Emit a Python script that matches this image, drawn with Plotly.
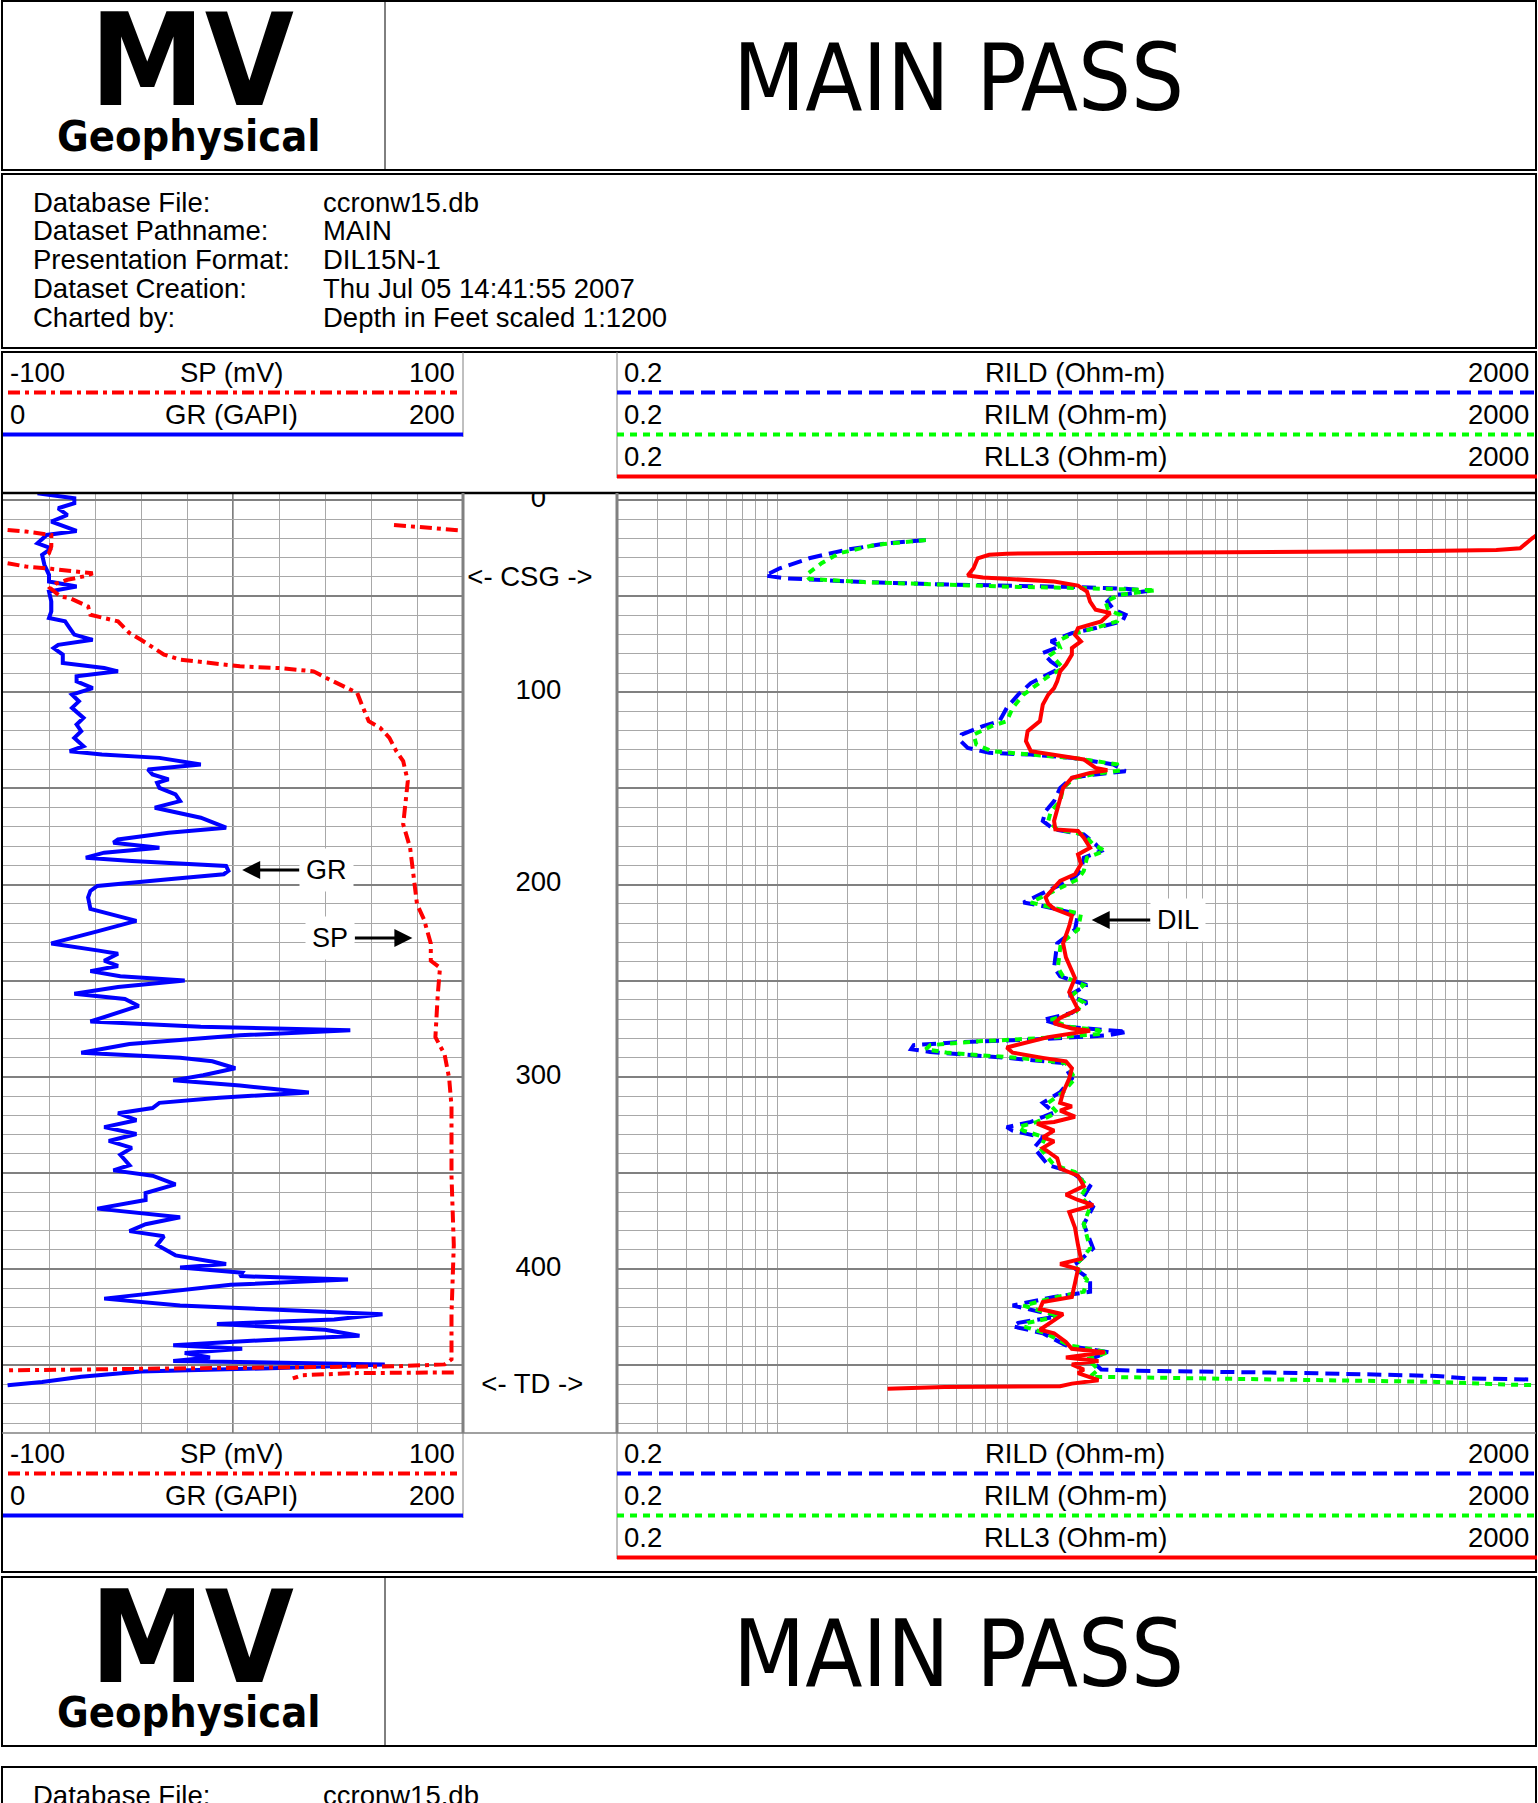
import plotly.graph_objects as go

W, H = 1538, 1803
SANS = "Liberation Sans, Arial, sans-serif"
NARROW = "DejaVu Sans Condensed, Liberation Sans Narrow, sans-serif"

# ---------------- data (depth in feet) ----------------
gr_depth = [
    -3.5, -0.9, 1.7, 4.3, 7.8, 11.2, 16.1, 18.2, 22.5, 25.1,
    28.5, 33.7, 38.9, 42.4, 45.0, 47.6, 52.8, 58.0, 61.4, 63.1,
    66.6, 70.0, 72.7, 75.3, 77.0, 80.4, 84.8, 87.4, 89.1, 91.7,
    94.3, 97.8, 101.2, 104.7, 108.1, 113.3, 116.8, 120.2, 123.7, 128.0,
    130.6, 132.4, 134.1, 137.5, 140.1, 142.7, 145.3, 147.1, 149.7, 153.1,
    156.6, 160.0, 165.2, 170.4, 173.0, 176.5, 178.2, 180.8, 183.4, 186.0,
    187.7, 190.3, 192.9, 194.6, 197.2, 200.7, 203.3, 206.7, 212.6, 218.9,
    224.3, 230.6, 234.2, 236.0, 239.6, 242.3, 245.0, 247.7, 249.9, 253.2,
    256.8, 259.5, 263.1, 266.7, 271.2, 273.9, 275.7, 278.4, 282.9, 287.4,
    290.1, 291.9, 295.5, 299.1, 301.8, 304.5, 308.1, 310.8, 313.5, 316.2,
    318.9, 322.5, 326.1, 329.7, 333.3, 336.9, 340.5, 345.9, 348.6, 351.4,
    355.9, 360.4, 364.0, 368.5, 373.0, 376.6, 380.2, 382.9, 387.4, 392.8,
    397.3, 399.1, 401.8, 403.6, 405.4, 408.1, 411.7, 415.3, 418.9, 421.6,
    423.4, 426.1, 428.5, 431.5, 434.6, 436.9, 439.6, 441.4, 443.6, 445.9,
    447.7, 449.5, 451.4, 453.2, 455.9, 458.6, 460.4,
]
gr_api = [
    15, 31, 31, 24, 28, 21, 32, 19, 15, 21,
    17, 18, 20, 20, 32, 20, 21, 21, 20, 27,
    29, 31, 39, 24, 22, 26, 26, 44, 50, 32,
    32, 39, 30, 33, 30, 35, 32, 34, 31, 35,
    29, 43, 68, 86, 63, 65, 72, 67, 68, 75,
    77, 66, 86, 97, 72, 50, 48, 68, 44, 36,
    56, 97, 98, 96, 72, 41, 38, 37, 38, 58,
    41, 21, 41, 50, 44, 50, 38, 51, 79, 50,
    31, 53, 59, 50, 38, 86, 151, 103, 55, 34,
    77, 91, 101, 87, 74, 103, 133, 94, 68, 65,
    50, 58, 44, 58, 46, 56, 51, 55, 48, 65,
    75, 62, 62, 41, 77, 62, 55, 70, 67, 75,
    97, 77, 104, 103, 150, 99, 72, 44, 77, 132,
    165, 144, 93, 140, 155, 113, 74, 104, 79, 90,
    74, 166, 120, 60, 34, 17, 2,
]

# SP wraps around the track, so it is drawn in pieces (None = break)
sp_depth = [
    13.0, 14.4, 15.9, None,
    15.6, 16.4, 18.2, 19.9, 24.2, 27.7, 28.5, None,
    32.9, 34.6, 35.8, 38.1, 39.5, 41.5, 43.5, 45.8, 50.2, 51.0,
    55.4, 59.7, 63.1, 69.2, 72.7, 80.4, 83.0, 85.1, 86.5, 87.4,
    89.1, 93.4, 100.3, 106.4, 115.0, 118.5, 123.7, 130.6, 135.8, 146.2,
    158.3, 168.7, 180.8, 198.1, 210.2, 218.0, 230.6, 239.6, 243.2, 257.7,
    279.3, 288.3, 300.9, 315.3, 351.4, 387.4, 423.4, 446.8, 449.5, 450.5,
    450.8, 451.3, 451.7, 452.6, None,
    453.7, 454.0, 455.1, 456.8,
]
sp_mv = [
    70, 85, 100, None,
    -98, -90, -79, -79, -79, -80, -81, None,
    -98, -90, -79, -61, -64, -72, -77, -79.5, -75, -71,
    -63, -62, -50, -45, -40, -30, -23, -8, 3, 20,
    35, 42, 54, 56, 59, 64, 68, 71, 74, 76,
    75, 74, 77, 79, 80, 83, 86, 86, 90, 89,
    88, 92, 94, 95, 95, 96, 95, 95, 92, 71,
    37, 3, -32, -98, None,
    96, 54, 30, 26,
]

rll3_depth = [
    16.4, 19.9, 25.1, 26.0, 26.5, 27.2, 27.9, 28.5, 30.3, 35.5,
    39.3, 40.3, 41.5, 42.4, 44.5, 47.6, 52.8, 57.1, 58.8, 63.1,
    66.6, 70.1, 73.5, 77.0, 80.4, 85.6, 89.1, 94.3, 97.8, 101.2,
    106.4, 115.0, 120.2, 125.4, 130.6, 132.4, 134.9, 139.3, 140.5, 141.9,
    144.5, 149.7, 154.8, 160.0, 166.9, 171.3, 172.1, 175.6, 180.8, 184.3,
    189.4, 194.6, 198.1, 201.6, 206.7, 210.0, 212.6, 216.2, 221.6, 230.6,
    237.8, 248.6, 255.9, 264.9, 269.4, 272.1, 274.8, 276.0, 279.3, 284.7,
    287.4, 290.1, 291.9, 295.5, 300.9, 308.1, 313.5, 315.3, 317.5, 320.7,
    323.4, 324.3, 327.9, 331.5, 333.5, 336.9, 342.3, 347.7, 351.4, 356.8,
    361.3, 364.0, 366.7, 370.3, 378.4, 387.4, 394.6, 397.3, 400.0, 407.2,
    414.4, 417.1, 420.7, 423.4, 427.9, 431.5, 433.3, 437.8, 441.4, 443.2,
    445.9, 447.7, 449.5, 452.2, 454.1, 457.7, 459.5, 460.9, 461.3, 462.2,
]
rll3_ohm = [
    2100, 1906, 1690, 1331, 650, 80, 9.9, 8.3, 7.4, 7.1,
    6.7, 7.8, 11.1, 15.9, 20.2, 22.1, 22.8, 24.1, 27.9, 25.5,
    20.2, 19.6, 20.8, 19.0, 19.0, 17.9, 16.9, 16.4, 15.9, 15.0,
    14.2, 13.8, 12.2, 12.0, 12.6, 15.9, 21.4, 24.1, 27.1, 22.8,
    19.0, 17.4, 16.9, 16.4, 15.9, 16.1, 20.2, 21.4, 22.8, 20.2,
    20.8, 19.6, 16.9, 15.9, 14.6, 15.0, 15.9, 19.0, 18.5, 17.4,
    17.9, 19.6, 18.5, 20.2, 16.9, 15.9, 19.0, 22.8, 15.0, 9.9,
    10.5, 14.2, 17.9, 19.0, 18.5, 17.4, 16.9, 19.0, 16.9, 19.6,
    15.9, 13.4, 15.9, 14.2, 15.9, 14.2, 16.4, 16.9, 20.2, 21.4,
    17.9, 20.2, 23.5, 18.5, 19.6, 20.2, 20.8, 16.9, 20.2, 19.6,
    19.0, 14.2, 13.8, 17.4, 15.4, 13.8, 15.9, 17.9, 19.0, 26.4,
    17.9, 24.8, 19.0, 21.4, 20.2, 24.8, 19.0, 16.9, 5.3, 3.0,
]

rild_depth = [
    20.8, 22.5, 26.0, 30.3, 35.5, 39.3, 40.7, 42.4, 43.8, 44.6,
    45.3, 46.2, 47.2, 49.0, 49.3, 52.8, 57.1, 59.7, 63.1, 66.6,
    69.2, 73.5, 76.0, 79.6, 84.0, 87.4, 91.7, 95.2, 101.2, 108.1,
    115.0, 117.6, 122.0, 125.0, 128.9, 131.5, 132.4, 134.1, 137.5, 141.0,
    142.7, 144.5, 149.7, 156.6, 161.8, 166.9, 171.3, 173.9, 179.0, 182.5,
    186.0, 192.9, 197.2, 201.6, 207.6, 209.3, 210.8, 215.3, 223.4, 230.6,
    243.2, 247.7, 252.3, 257.7, 261.3, 266.7, 270.3, 273.9, 275.7, 276.5,
    278.4, 280.2, 282.0, 283.5, 285.6, 287.0, 290.1, 292.8, 300.9, 308.0,
    313.5, 318.5, 323.4, 326.1, 328.0, 331.5, 336.9, 345.9, 349.5, 356.8,
    362.2, 367.6, 376.6, 389.2, 396.4, 398.5, 405.4, 411.7, 414.4, 418.9,
    422.5, 424.3, 427.9, 429.7, 433.3, 439.6, 443.2, 446.8, 449.5, 452.2,
    452.8, 453.2, 454.1, 455.5, 456.8, 457.4, 457.6,
]
rild_ohm = [
    4.4, 3.0, 1.96, 1.37, 1.02, 0.88, 1.08, 2.1, 4.8, 11.1,
    20.2, 32.5, 41, 32.5, 29, 27.1, 29, 32.5, 31.5, 24.1,
    19.0, 15.4, 16.9, 14.2, 15.4, 16.9, 14.2, 12.6, 11.1, 9.9,
    9.2, 7.8, 6.3, 6.2, 6.7, 8.3, 12.6, 19.0, 28.8, 32.5,
    24.1, 19.0, 16.9, 15.9, 14.6, 14.2, 15.9, 21.4, 24.1, 25.5,
    21.4, 20.8, 19.0, 15.9, 12.6, 11.7, 13.8, 20.2, 19.6, 16.4,
    15.9, 16.9, 22.1, 18.5, 22.1, 19.0, 14.2, 17.9, 27.1, 33,
    27.1, 15.0, 6.0, 3.9, 3.8, 4.6, 9.9, 17.4, 19.0, 16.9,
    14.2, 15.9, 12.6, 9.9, 10.5, 14.2, 13.0, 15.0, 19.0, 22.8,
    21.4, 23.5, 21.4, 23.5, 20.2, 19.0, 22.8, 22.8, 15.9, 10.5,
    14.2, 16.9, 11.1, 10.5, 14.2, 17.9, 27.4, 22.8, 24.1, 25.5,
    36.8, 67, 221, 733, 987, 2000, 2500,
]

rilm_depth = [
    20.8, 23.4, 27.7, 32.9, 38.9, 41.0, 42.7, 44.1, 45.2, 45.8,
    46.5, 46.9, 49.3, 52.8, 57.1, 59.7, 63.1, 66.6, 69.7, 73.5,
    77.0, 80.4, 84.0, 87.4, 91.7, 96.0, 101.2, 108.1, 115.0, 117.6,
    122.0, 127.2, 130.6, 132.4, 134.4, 137.5, 140.7, 142.4, 144.5, 149.7,
    156.6, 161.8, 166.9, 171.3, 173.9, 179.0, 182.5, 186.0, 192.9, 197.2,
    201.6, 207.6, 209.3, 210.8, 215.3, 223.4, 230.6, 243.2, 247.7, 252.3,
    257.7, 261.3, 266.7, 270.3, 273.9, 275.7, 277.5, 279.3, 281.5, 283.5,
    285.6, 287.5, 290.1, 292.8, 300.9, 308.0, 313.5, 318.5, 323.4, 326.1,
    328.0, 331.5, 336.9, 345.9, 349.5, 356.8, 362.2, 367.6, 376.6, 389.2,
    396.4, 398.5, 405.4, 411.7, 414.4, 418.9, 422.5, 424.3, 427.9, 429.7,
    433.3, 439.6, 443.2, 446.8, 449.5, 452.2, 455.9, 456.8, 457.7, 458.6,
    460.0, 460.4, 460.6,
]
rilm_ohm = [
    4.4, 2.65, 1.85, 1.55, 1.33, 1.37, 2.35, 5.1, 11.1, 20.2,
    36.8, 44, 30.8, 26.6, 27.3, 30.8, 29.9, 24.0, 19.0, 16.4,
    16.9, 15.4, 16.4, 17.4, 15.0, 13.4, 11.7, 10.5, 9.9, 8.5,
    7.1, 7.3, 8.5, 12.6, 20.2, 29.9, 30.8, 24.0, 19.6, 17.4,
    16.9, 15.4, 15.0, 16.4, 21.4, 23.5, 26.4, 22.1, 21.4, 20.2,
    16.9, 13.4, 12.6, 14.2, 20.8, 20.2, 17.0, 16.5, 17.4, 21.4,
    19.0, 21.4, 19.6, 15.4, 18.5, 24.8, 26.0, 17.0, 7.5, 4.6,
    4.4, 5.5, 11.1, 17.9, 19.6, 17.4, 15.0, 16.4, 13.4, 11.1,
    11.7, 14.6, 13.8, 15.9, 19.6, 22.1, 20.8, 22.8, 21.4, 22.8,
    20.2, 19.6, 22.1, 21.4, 16.4, 11.7, 14.6, 16.9, 12.2, 11.7,
    14.6, 18.5, 27.4, 22.1, 23.5, 24.8, 22.8, 67, 221, 733,
    1500, 2000, 2500,
]

depth_ticks = [0, 100, 200, 300, 400]
marker_depth = [41, 461]
marker_text = ["<- CSG ->", "<- TD ->"]

info_labels = ["Database File:", "Dataset Pathname:", "Presentation Format:",
               "Dataset Creation:", "Charted by:"]
info_values = ["ccronw15.db", "MAIN", "DIL15N-1",
               "Thu Jul 05 14:41:55 2007", "Depth in Feet scaled 1:1200"]

left_scales = [("-100", "SP (mV)", "100"), ("0", "GR (GAPI)", "200")]
right_scales = [("0.2", "RILD (Ohm-m)", "2000"), ("0.2", "RILM (Ohm-m)", "2000"),
                ("0.2", "RLL3 (Ohm-m)", "2000")]

# ---------------- layout geometry (pixels) ----------------
TOP, BOT = 493, 1433
PX_FT = 1.923
D0 = 500
d_top = (TOP - D0) / PX_FT
d_bot = (BOT - D0) / PX_FT
L0, L1, R0, R1 = 3, 463, 617, 1537

RED, BLUE, GREEN = "#ff0000", "#0000ff", "#00ff00"
SP_DASH, RILD_DASH, RILM_DASH = "12px,5px,4px,5px", "14px,7px", "7px,6px"
GRID, GRID_MAJ = "#a8a8a8", "#808080"
LW = 4


def xp(x):
    return x / W


def yp(y):
    return 1 - y / H


shapes = []
annotations = []


def line(x0, y0, x1, y1, color="black", width=1, dash="solid"):
    shapes.append(dict(type="line", xref="paper", yref="paper",
                       x0=xp(x0), y0=yp(y0), x1=xp(x1), y1=yp(y1),
                       line=dict(color=color, width=width, dash=dash)))


def rect(x0, y0, x1, y1, width=2):
    shapes.append(dict(type="rect", xref="paper", yref="paper",
                       x0=xp(x0), y0=yp(y0), x1=xp(x1), y1=yp(y1),
                       line=dict(color="black", width=width)))


def text(x, y, s, size=27.5, anchor="left", family=SANS, weight="normal"):
    annotations.append(dict(x=xp(x), y=yp(y), xref="paper", yref="paper",
                            text=s, showarrow=False, xanchor=anchor, yanchor="middle",
                            font=dict(family=family, size=size, color="black", weight=weight)))


def logo_box(y0):
    rect(2, y0, 1536, y0 + 169)
    line(385, y0, 385, y0 + 169, width=1)
    text(192, y0 + 60, "MV", size=128, anchor="center", family=NARROW, weight="bold")
    text(189, y0 + 135, "Geophysical", size=43, anchor="center", family=NARROW, weight="bold")
    text(958, y0 + 77, "MAIN PASS", size=93, anchor="center", family=NARROW)


def info_box(y0):
    rect(2, y0, 1536, y0 + 174)
    for i, (lab, val) in enumerate(zip(info_labels, info_values)):
        text(31, y0 + 28 + 28.8 * i, lab)
        text(321, y0 + 28 + 28.8 * i, val)


def scale_header(y0):
    line(L1, y0, L1, y0 + 85, color=GRID_MAJ, width=1)
    line(R0, y0, R0, y0 + 126, color=GRID_MAJ, width=1)
    styles_l = [(RED, SP_DASH, 8, 457), (BLUE, "solid", L0, L1)]
    for i, (lo, name, hi) in enumerate(left_scales):
        ty = y0 + 20.5 + 42 * i
        text(8, ty, lo)
        text(231, ty, name, anchor="center")
        text(457, ty, hi, anchor="right")
        c, d, a, b = styles_l[i]
        line(a, y0 + 40.5 + 42 * i, b, y0 + 40.5 + 42 * i, color=c, width=LW, dash=d)
    styles_r = [(BLUE, RILD_DASH), (GREEN, RILM_DASH), (RED, "solid")]
    for i, (lo, name, hi) in enumerate(right_scales):
        ty = y0 + 20.5 + 42 * i
        text(622, ty, lo)
        text(1075, ty, name, anchor="center")
        text(1531, ty, hi, anchor="right")
        c, d = styles_r[i]
        line(R0, y0 + 40.5 + 42 * i, R1, y0 + 40.5 + 42 * i, color=c, width=LW, dash=d)


# page furniture
logo_box(1)
info_box(174)
rect(2, 352, 1536, 1572)
scale_header(352)
scale_header(BOT)
logo_box(1577)
info_box(1767)

line(2, TOP, 1536, TOP, width=2.5)
line(2, BOT, 1536, BOT, color=GRID_MAJ, width=1.5)
line(L1, TOP, L1, BOT, color=GRID_MAJ, width=3)
line(R0, TOP, R0, BOT, color=GRID_MAJ, width=3)
shapes.append(dict(type="line", xref="x", yref="paper", x0=100, x1=100,
                   y0=yp(BOT), y1=yp(TOP), line=dict(color=GRID_MAJ, width=2), layer="below"))

# ---------------- traces ----------------
fig = go.Figure()
fig.add_trace(go.Scatter(x=sp_mv, y=sp_depth, xaxis="x4", yaxis="y", mode="lines",
                         line=dict(color=RED, width=LW, dash=SP_DASH), hoverinfo="skip"))
fig.add_trace(go.Scatter(x=gr_api, y=gr_depth, xaxis="x", yaxis="y", mode="lines",
                         line=dict(color=BLUE, width=LW), hoverinfo="skip"))
fig.add_trace(go.Scatter(x=rild_ohm, y=rild_depth, xaxis="x3", yaxis="y3", mode="lines",
                         line=dict(color=BLUE, width=LW, dash=RILD_DASH), hoverinfo="skip"))
fig.add_trace(go.Scatter(x=rilm_ohm, y=rilm_depth, xaxis="x3", yaxis="y3", mode="lines",
                         line=dict(color=GREEN, width=LW, dash=RILM_DASH), hoverinfo="skip"))
fig.add_trace(go.Scatter(x=rll3_ohm, y=rll3_depth, xaxis="x3", yaxis="y3", mode="lines",
                         line=dict(color=RED, width=LW), hoverinfo="skip"))
fig.add_trace(go.Scatter(x=[0.49] * len(depth_ticks), y=depth_ticks, xaxis="x2", yaxis="y2",
                         mode="text", text=[str(d) for d in depth_ticks],
                         textfont=dict(family=SANS, size=27.5, color="black"), hoverinfo="skip"))
fig.add_trace(go.Scatter(x=[0.435, 0.45], y=marker_depth, xaxis="x2", yaxis="y2",
                         mode="text", text=marker_text,
                         textfont=dict(family=SANS, size=27.5, color="black"), hoverinfo="skip"))

# curve call-outs
arrow = dict(showarrow=True, arrowhead=2, arrowsize=1.2, arrowwidth=3, arrowcolor="black",
             ay=0, bgcolor="white", borderpad=6, font=dict(family=SANS, size=27, color="black"))
annotations.append(dict(arrow, x=104, y=192.4, xref="x", yref="y", ax=84, text="GR"))
annotations.append(dict(arrow, x=78, y=227.8, xref="x4", yref="y", ax=-82, text="SP"))
annotations.append(dict(arrow, x=1.365, y=218.4, xref="x3", yref="y3", ax=86, text="DIL"))

ydom = [yp(BOT), yp(TOP)]
ygrid = dict(domain=ydom, range=[d_bot, d_top], showticklabels=False, ticks="",
             zeroline=False, showgrid=True, dtick=50, tick0=0, gridcolor=GRID_MAJ, gridwidth=2,
             minor=dict(dtick=10, tick0=0, showgrid=True, gridcolor=GRID, gridwidth=1),
             fixedrange=True)

fig.update_layout(
    width=W, height=H, margin=dict(l=0, r=0, t=0, b=0),
    paper_bgcolor="white", plot_bgcolor="white", showlegend=False,
    xaxis=dict(domain=[xp(L0), xp(L1)], range=[0, 200], dtick=20, showgrid=True,
               gridcolor=GRID, gridwidth=1, showticklabels=False, ticks="",
               zeroline=False, anchor="y", fixedrange=True),
    xaxis4=dict(overlaying="x", range=[-100, 100], visible=False, anchor="y"),
    yaxis=dict(ygrid, anchor="x"),
    xaxis2=dict(domain=[xp(L1), xp(R0)], range=[0, 1], visible=False, anchor="y2"),
    yaxis2=dict(domain=ydom, range=[d_bot, d_top], visible=False, anchor="x2"),
    xaxis3=dict(domain=[xp(R0), xp(R1)], type="log", range=[-0.69897, 3.30103],
                dtick="D1", showgrid=True, gridcolor=GRID, gridwidth=1,
                showticklabels=False, ticks="", zeroline=False, anchor="y3", fixedrange=True),
    yaxis3=dict(ygrid, anchor="x3"),
    shapes=shapes,
    annotations=annotations,
)

# page has no body margin so the log fills the window edge to edge
fig.write_html("out.html", config={"displayModeBar": False},
               post_script="document.body.style.margin='0';"
                           "document.documentElement.style.overflow='hidden';")
